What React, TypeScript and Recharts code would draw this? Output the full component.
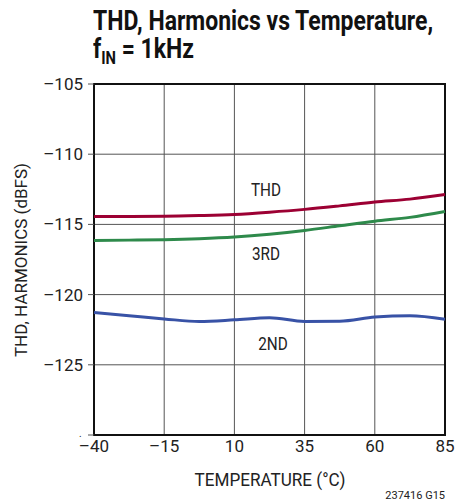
import { CartesianGrid, Line, LineChart, ReferenceArea, XAxis, YAxis } from 'recharts'

const temps = [-40, -27.5, -15, -2.5, 10, 22.5, 35, 47.5, 60, 72.5, 85]
const thd = [-114.43, -114.43, -114.42, -114.37, -114.29, -114.13, -113.93, -113.68, -113.41, -113.2, -112.87]
const third = [-116.14, -116.12, -116.09, -116.02, -115.9, -115.7, -115.43, -115.1, -114.77, -114.5, -114.08]
const second = [-121.28, -121.5, -121.73, -121.92, -121.8, -121.64, -121.92, -121.9, -121.6, -121.5, -121.75]

const xTicks = [-40, -15, 10, 35, 60, 85]
const yTicks = [-130, -125, -120, -115, -110, -105]

const data = temps.map((t, i) => ({ t, thd: thd[i], third: third[i], second: second[i] }))

const font = 'Roboto, "Liberation Sans", sans-serif'

const fmtY = (v: number) => (v === -130 ? '' : `–${Math.abs(v)}`)
const fmtX = (v: number) => (v < 0 ? `–${Math.abs(v)}` : `${v}`)

// narrow text by squeezing horizontally, anchored at its center
function Squeezed({ x, y, size, sx = 0.85, children }: { x: number; y: number; size: number; sx?: number; children: any }) {
  return (
    <div
      style={{
        position: 'absolute',
        left: x,
        top: y,
        fontSize: size,
        whiteSpace: 'nowrap',
        transform: `translateX(-50%) scaleX(${sx})`,
      }}
    >
      {children}
    </div>
  )
}

const titleStyle = {
  position: 'absolute' as const,
  left: 93,
  fontSize: 28,
  fontWeight: 700,
  lineHeight: '26px',
  color: '#111',
  whiteSpace: 'nowrap' as const,
  transform: 'scaleX(0.82)',
  transformOrigin: 'left top',
}

export default function App() {
  return (
    <div style={{ position: 'absolute', left: 0, top: 0, width: 469, height: 504, background: '#fff', fontFamily: font, color: '#222' }}>
      <div style={{ ...titleStyle, top: 8 }}>THD, Harmonics vs Temperature,</div>
      <div style={{ ...titleStyle, top: 36 }}>
        f<sub style={{ fontSize: 18, verticalAlign: -6, lineHeight: 0 }}>IN</sub> = 1kHz
      </div>
      <LineChart
        width={469}
        height={504}
        data={data}
        margin={{ top: 84, right: 24, bottom: 0, left: 0 }}
        style={{ position: 'absolute', left: 0, top: 0 }}
      >
        <CartesianGrid stroke="#555" strokeWidth={1} />
        <XAxis
          dataKey="t"
          type="number"
          domain={[-40, 85]}
          ticks={xTicks}
          tickFormatter={fmtX}
          height={69}
          axisLine={false}
          tickLine={false}
          tickSize={0}
          tickMargin={5}
          tick={{ fontSize: 17, fill: '#222', fontFamily: font }}
        />
        <YAxis
          type="number"
          domain={[-130, -105]}
          ticks={yTicks}
          tickFormatter={fmtY}
          width={94}
          axisLine={false}
          tickLine={{ stroke: '#555' }}
          tickSize={6}
          tickMargin={5}
          tick={{ fontSize: 17, fill: '#222', fontFamily: font }}
        />
        <ReferenceArea x1={-40} x2={85} y1={-130} y2={-105} fill="none" fillOpacity={0} stroke="#111" strokeWidth={2} />
        <Line dataKey="thd" type="monotone" stroke="#9c0033" strokeWidth={3} dot={false} isAnimationActive={false} />
        <Line dataKey="third" type="monotone" stroke="#2e8a4b" strokeWidth={3} dot={false} isAnimationActive={false} />
        <Line dataKey="second" type="monotone" stroke="#3852a6" strokeWidth={3} dot={false} isAnimationActive={false} />
      </LineChart>
      <div style={{ position: 'absolute', left: 79, top: 430, fontSize: 10, lineHeight: '8px' }}>.</div>
      <Squeezed x={266} y={179} size={18}>THD</Squeezed>
      <Squeezed x={266} y={243} size={18}>3RD</Squeezed>
      <Squeezed x={273} y={333} size={18}>2ND</Squeezed>
      <Squeezed x={270} y={468} size={19} sx={0.9}>TEMPERATURE (°C)</Squeezed>
      <div
        style={{
          position: 'absolute',
          left: 21,
          top: 260,
          transform: 'translate(-50%, -50%) rotate(-90deg)',
          fontSize: 17,
          whiteSpace: 'nowrap',
        }}
      >
        THD, HARMONICS (dBFS)
      </div>
      <div style={{ position: 'absolute', right: 24, top: 490, fontSize: 11, lineHeight: '12px', color: '#222' }}>237416 G15</div>
    </div>
  )
}
